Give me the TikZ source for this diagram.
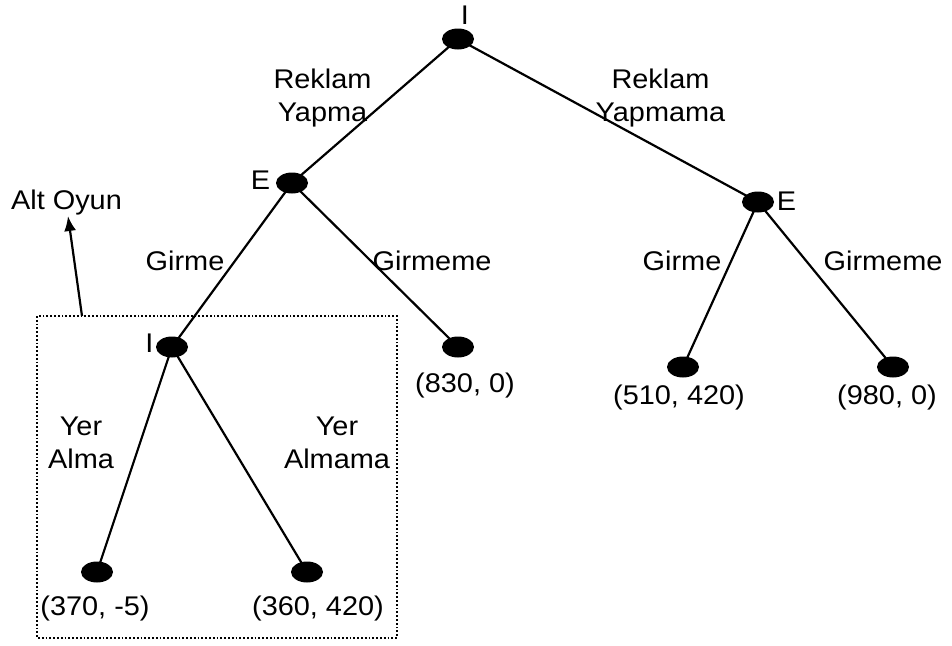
\documentclass[tikz,border=0pt]{standalone}
\usepackage{fontspec}
\setmainfont[FakeStretch=1.07]{Liberation Sans}
\usetikzlibrary{shapes.geometric,arrows.meta,backgrounds}
\begin{document}
\begin{tikzpicture}[x=1pt,y=-1pt,
  dot/.style={ellipse,fill=black,minimum width=32pt,minimum height=21pt,inner sep=0pt},
  lbl/.style={font=\fontsize{27}{33}\selectfont,align=center,inner sep=0pt},
  edge/.style={line width=2.2pt},
  box/.style={dotted,line width=1.8pt}]
\useasboundingbox (0,0) rectangle (952,645);
% decision nodes
\node[dot] (top) at (458,39) {};
\node[dot] (el) at (292,183) {};
\node[dot] (er) at (758,202) {};
\node[dot] (il) at (172,347) {};
% leaves
\node[dot] (l830) at (458,347) {};
\node[dot] (l510) at (683,367) {};
\node[dot] (l980) at (893,367) {};
\node[dot] (l370) at (97,572) {};
\node[dot] (l360) at (307,572) {};
% labels
\node[lbl] (tI) at (465,15) {I};
\node[lbl] (tEl) at (260.5,180.5) {E};
\node[lbl] (tEr) at (786.5,201.5) {E};
\node[lbl] (tIl) at (149.5,343) {I};
\node[lbl] (ry) at (322.5,98) {Reklam\\Yapma};
\node[lbl] (rym) at (660.5,98) {Reklam\\Yapmama};
\node[lbl] (g1) at (185,261) {Girme};
\node[lbl] (gm1) at (432,261) {Girmeme};
\node[lbl] (g2) at (682,261) {Girme};
\node[lbl] (gm2) at (883,261) {Girmeme};
\node[lbl] (ya) at (81,443) {Yer\\Alma};
\node[lbl] (yam) at (337,443) {Yer\\Almama};
\node[lbl] (p830) at (465,386) {(830, 0)};
\node[lbl] (p510) at (679,398) {(510, 420)};
\node[lbl] (p980) at (887,398) {(980, 0)};
\node[lbl] (p370) at (95,609) {(370, -5)};
\node[lbl] (p360) at (318,609) {(360, 420)};
\node[lbl] (alt) at (66.5,203) {Alt Oyun};
% subgame box
\draw[box] (37,316) rectangle (397,638);
\coordinate (boxtop) at (82,316);
\coordinate (alttip) at (68,216);
\draw[edge,-{Latex[length=15pt,width=12pt]}] (boxtop) -- (alttip);
\begin{scope}[on background layer]
\draw[edge] (top.center) -- (el.center);
\draw[edge] (top.center) -- (er.center);
\draw[edge] (el.center) -- (il.center);
\draw[edge] (el.center) -- (l830.center);
\draw[edge] (er.center) -- (l510.center);
\draw[edge] (er.center) -- (l980.center);
\draw[edge] (il.center) -- (l370.center);
\draw[edge] (il.center) -- (l360.center);
\end{scope}
\end{tikzpicture}
\end{document}
